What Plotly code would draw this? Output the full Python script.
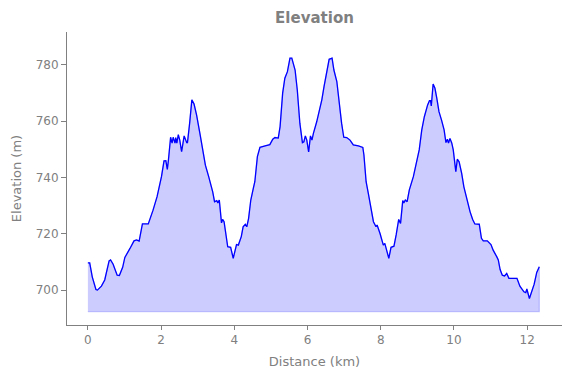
import plotly.graph_objects as go

distance_km = [0.00, 0.05, 0.12, 0.22, 0.26, 0.37, 0.46, 0.58, 0.62, 0.69, 0.80, 0.86, 0.95, 1.01,
               1.15, 1.26, 1.33, 1.40, 1.49, 1.65, 1.78, 1.89, 2.01, 2.08, 2.13, 2.17, 2.20, 2.26,
               2.30, 2.33, 2.38, 2.40, 2.43, 2.47, 2.51, 2.56, 2.59, 2.63, 2.70, 2.72, 2.78, 2.84,
               2.90, 2.97, 3.06, 3.15, 3.21, 3.30, 3.41, 3.46, 3.52, 3.55, 3.59, 3.65, 3.68, 3.72,
               3.82, 3.90, 3.97, 4.06, 4.11, 4.19, 4.24, 4.30, 4.34, 4.39, 4.45, 4.52, 4.56, 4.63,
               4.70, 4.84, 4.97, 5.05, 5.11, 5.20, 5.25, 5.32, 5.38, 5.45, 5.52, 5.57, 5.66, 5.72,
               5.79, 5.86, 5.90, 5.94, 5.98, 6.03, 6.08, 6.12, 6.16, 6.25, 6.31, 6.39, 6.45, 6.52,
               6.59, 6.67, 6.72, 6.80, 6.86, 6.93, 6.99, 7.07, 7.16, 7.25, 7.39, 7.51, 7.54, 7.60,
               7.66, 7.75, 7.80, 7.87, 7.90, 7.98, 8.02, 8.07, 8.11, 8.16, 8.22, 8.28, 8.36, 8.42,
               8.49, 8.54, 8.60, 8.63, 8.67, 8.72, 8.78, 8.89, 8.96, 9.05, 9.12, 9.19, 9.28, 9.33,
               9.36, 9.38, 9.43, 9.48, 9.53, 9.59, 9.66, 9.73, 9.78, 9.82, 9.85, 9.89, 9.94, 9.98,
               10.05, 10.09, 10.14, 10.21, 10.27, 10.35, 10.44, 10.51, 10.57, 10.69, 10.75, 10.80,
               10.91, 11.01, 11.07, 11.17, 11.21, 11.26, 11.32, 11.38, 11.44, 11.50, 11.58, 11.67,
               11.72, 11.80, 11.91, 11.96, 11.99, 12.06, 12.12, 12.19, 12.26, 12.33]

elevation_m = [709.7, 709.7, 704.7, 700.2, 700.0, 701.4, 703.6, 710.4, 710.7, 709.2, 705.3, 705.2, 708.1, 711.6,
               714.8, 717.5, 717.8, 717.4, 723.5, 723.5, 728.4, 733.2, 740.3, 745.9, 746.0, 742.9, 746.2, 754.3,
               752.2, 754.3, 752.2, 754.2, 752.2, 755.2, 753.3, 749.2, 751.6, 754.8, 752.4, 752.4, 759.3, 767.6,
               766.1, 762.2, 755.7, 748.6, 744.4, 740.3, 734.9, 731.4, 731.8, 731.0, 732.0, 723.9, 725.1, 724.3,
               715.4, 715.2, 711.3, 716.2, 716.0, 719.0, 722.5, 723.4, 722.5, 725.5, 732.0, 736.2, 738.5, 747.4,
               750.7, 751.2, 751.7, 753.6, 754.2, 754.0, 758.1, 770.0, 775.3, 777.6, 782.4, 782.4, 778.2, 771.1,
               759.3, 752.4, 752.7, 754.8, 753.3, 749.1, 754.8, 753.3, 755.7, 759.8, 762.8, 767.6, 772.3, 777.6,
               782.0, 782.4, 778.2, 774.1, 767.0, 759.3, 754.3, 754.2, 753.3, 751.6, 751.2, 750.7, 748.0, 738.5,
               734.4, 728.4, 724.3, 722.5, 723.1, 720.1, 718.4, 716.0, 716.6, 714.2, 711.3, 715.2, 715.6, 719.6,
               725.1, 723.7, 731.8, 731.0, 732.0, 731.4, 735.6, 740.3, 744.4, 749.8, 756.9, 761.6, 765.8, 767.3,
               767.3, 765.4, 773.2, 771.7, 768.2, 763.4, 760.4, 756.9, 752.4, 753.6, 752.2, 753.9, 752.2, 749.8,
               742.1, 746.5, 745.6, 741.5, 736.7, 732.0, 727.8, 725.1, 723.5, 723.4, 718.4, 717.5,
               717.5, 716.2, 714.2, 711.8, 710.7, 707.3, 705.3, 705.0, 705.9, 704.2, 704.2, 704.2,
               704.2, 701.4, 699.4, 699.1, 700.4, 697.0, 699.4, 702.1, 706.3, 708.3]

fill_base_m = 692.3

x_tick_values = [0, 2, 4, 6, 8, 10, 12]
y_tick_values = [700, 720, 740, 760, 780]

GRAY = "#808080"
FONT = "DejaVu Sans"

# The page body has an 8px default margin, so the figure is sized to the remaining area.
FIG_W, FIG_H = 563, 370

fig = go.Figure()

fig.add_trace(go.Scatter(
    x=distance_km + [distance_km[-1], distance_km[0]],
    y=elevation_m + [fill_base_m, fill_base_m],
    mode="lines",
    fill="toself",
    fillcolor="rgba(0,0,255,0.2)",
    line=dict(color="rgba(0,0,255,0.2)", width=1.2),
    hoverinfo="skip",
    showlegend=False,
))

fig.add_trace(go.Scatter(
    x=distance_km,
    y=elevation_m,
    mode="lines",
    line=dict(color="#0000ff", width=1.3),
    showlegend=False,
))

fig.update_layout(
    width=FIG_W,
    height=FIG_H,
    margin=dict(l=59, r=9, t=24, b=53, autoexpand=False),
    paper_bgcolor="white",
    plot_bgcolor="white",
    font=dict(family=FONT, color=GRAY, size=12),
    title=dict(
        text="<b>Elevation</b>",
        x=306.5 / FIG_W,
        xanchor="center",
        y=1 - 10 / FIG_H,
        yanchor="middle",
        font=dict(family=FONT, size=15, color=GRAY),
    ),
    xaxis=dict(
        range=[-0.57, 12.95],
        tickvals=x_tick_values,
        ticks="outside",
        ticklen=4,
        tickcolor=GRAY,
        showline=True,
        linecolor=GRAY,
        linewidth=1,
        showgrid=False,
        zeroline=False,
        title=dict(text="Distance (km)", font=dict(size=13, color=GRAY), standoff=10),
        tickfont=dict(size=12, color=GRAY),
    ),
    yaxis=dict(
        range=[687.6, 791.7],
        tickvals=y_tick_values,
        ticks="outside",
        ticklen=5,
        tickcolor=GRAY,
        showline=True,
        linecolor=GRAY,
        linewidth=1,
        showgrid=False,
        zeroline=False,
        title=dict(text="Elevation (m)", font=dict(size=13, color=GRAY), standoff=11),
        tickfont=dict(size=12, color=GRAY),
    ),
)

fig.write_html("out.html")
